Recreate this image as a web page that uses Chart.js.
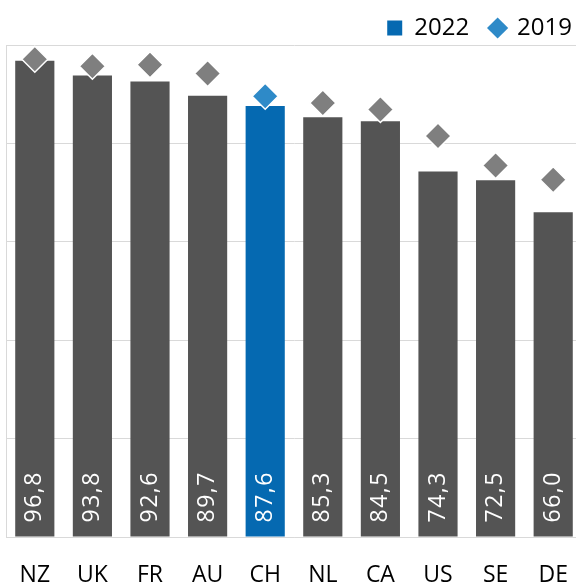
<!DOCTYPE html>
<html lang="en">
<head>
  <meta charset="UTF-8">
  <title>2022 vs 2019</title>
  <style>
    html, body { margin: 0; padding: 0; background: #fff; overflow: hidden; }
    #wrap { width: 576px; height: 586px; overflow: hidden; }
    canvas { display: block; }
  </style>
</head>
<body>

  <div id="wrap"><canvas id="chart" width="593" height="586"></canvas></div>

  <script src="https://cdn.jsdelivr.net/npm/chart.js@4"></script>
  <script>
    const countries = ['NZ', 'UK', 'FR', 'AU', 'CH', 'NL', 'CA', 'US', 'SE', 'DE'];
    const values2022 = [96.8, 93.8, 92.6, 89.7, 87.6, 85.3, 84.5, 74.3, 72.5, 66.0];
    const values2019 = [97.1, 95.7, 96.0, 94.2, 89.6, 88.2, 86.9, 81.5, 75.5, 72.6];
    const yTicks = [0, 20, 40, 60, 80, 100];
    const highlight = 'CH';

    const barGray = '#545454';
    const barBlue = '#0569b1';
    const dotGray = '#7f7f7f';
    const dotBlue = '#2e8ac8';
    const gridColor = '#d9d9d9';

    const barColors = countries.map(c => c === highlight ? barBlue : barGray);
    const dotColors = countries.map(c => c === highlight ? dotBlue : dotGray);

    // white rotated numbers at the foot of each bar
    const barLabels = {
      id: 'barLabels',
      afterDatasetsDraw(chart) {
        const meta = chart.getDatasetMeta(1);
        const ctx = chart.ctx;
        ctx.save();
        ctx.font = '23px "Open Sans"';
        ctx.fillStyle = '#fff';
        ctx.textAlign = 'left';
        ctx.textBaseline = 'middle';
        if ('letterSpacing' in ctx) ctx.letterSpacing = '1.5px';
        meta.data.forEach((bar, i) => {
          ctx.save();
          ctx.translate(bar.x, bar.base - 14);
          ctx.rotate(-Math.PI / 2);
          ctx.fillText(values2022[i].toFixed(1).replace('.', ','), 0, 0);
          ctx.restore();
        });
        ctx.restore();
      }
    };

    new Chart(document.getElementById('chart'), {
      type: 'bar',
      data: {
        labels: countries,
        datasets: [
          {
            type: 'line',
            label: '2019',
            data: values2019,
            showLine: false,
            pointStyle: 'rectRot',
            pointRadius: 13,
            pointHoverRadius: 13,
            pointBackgroundColor: dotColors,
            pointBorderColor: '#fff',
            pointBorderWidth: 1.5,
            order: 0
          },
          {
            label: '2022',
            data: values2022,
            backgroundColor: barColors,
            barPercentage: 0.68,
            categoryPercentage: 1,
            order: 1
          }
        ]
      },
      options: {
        responsive: false,
        animation: false,
        layout: { autoPadding: false, padding: { left: 6, right: 0, top: -5, bottom: 0 } },
        scales: {
          x: {
            grid: { display: false, drawTicks: false },
            border: { display: true, color: gridColor },
            ticks: { color: '#000', font: { family: '"Open Sans"', size: 23 }, padding: 25 },
            afterFit(s) {
              s.height = 49;
              s.paddingLeft = 0;
              s.paddingRight = 0;
            }
          },
          y: {
            min: 0,
            max: 100,
            afterBuildTicks(s) { s.ticks = yTicks.map(v => ({ value: v })); },
            ticks: { display: false },
            grid: { color: gridColor, drawTicks: false },
            border: { display: true, color: gridColor }
          },
          yPad: {
            position: 'right',
            grid: { display: false, drawTicks: false },
            border: { display: false },
            ticks: { display: false },
            afterFit(s) { s.width = 11; }
          }
        },
        plugins: {
          tooltip: { enabled: false },
          legend: {
            position: 'top',
            align: 'end',
            maxHeight: 50,
            labels: {
              usePointStyle: true,
              boxWidth: 15,
              boxHeight: 15,
              padding: 21,
              color: '#000',
              font: { family: '"Open Sans"', size: 24 },
              generateLabels: () => [
                { text: '2022', fillStyle: barBlue, strokeStyle: barBlue, lineWidth: 0, pointStyle: 'rect', hidden: false, datasetIndex: 1 },
                { text: '2019', fillStyle: dotBlue, strokeStyle: dotBlue, lineWidth: 0, pointStyle: 'rectRot', hidden: false, datasetIndex: 0 }
              ]
            }
          }
        }
      },
      plugins: [barLabels]
    });
  </script>
</body>
</html>
